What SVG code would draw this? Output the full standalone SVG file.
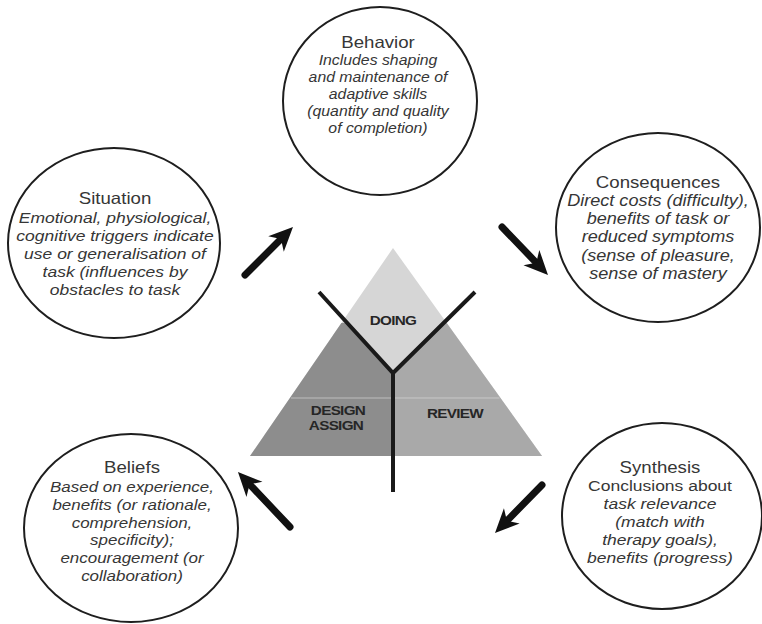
<svg xmlns="http://www.w3.org/2000/svg" width="762" height="624" viewBox="0 0 762 624">
<defs>
<style>
.circ{fill:#fff;stroke:#1e1e1e;stroke-width:2}
.t{font-family:"Liberation Sans",Arial,sans-serif;fill:#363636;text-anchor:middle}
.ti{font-size:16.5px}
.b{font-style:italic}
.lab{font-family:"Liberation Sans",Arial,sans-serif;font-weight:bold;font-size:13.5px;fill:#262626;text-anchor:middle;letter-spacing:-0.6px}
.arr{stroke:#111;stroke-width:7;fill:none;stroke-linecap:round}
.arm{stroke:#1a1a1a;stroke-width:4;fill:none;stroke-linecap:butt}
</style>
<marker id="ah" markerUnits="userSpaceOnUse" viewBox="-26 -13 28 26" markerWidth="28" markerHeight="26" refX="-12" refY="0" orient="auto">
<path d="M0,0 L-24,-11 L-17,0 L-24,11 Z" fill="#111"/>
</marker>
</defs>
<rect width="762" height="624" fill="#fff"/>

<g id="triangle">
<polygon points="393,248 542,456 250,456" fill="#d6d6d6"/>
<polygon points="341.4,323 347.3,323 393,373 393,456 250,456" fill="#8d8d8d"/>
<polygon points="393,373 443.6,323 446.7,323 542,456 393,456" fill="#a9a9a9"/>
<line x1="291" y1="398" x2="499.5" y2="398" stroke="#dedede" stroke-width="1" opacity="0.6"/>
<path class="arm" d="M319,292 L393,373 L475,292 M393,373 L393,492"/>
<text class="lab" x="0" y="0" transform="translate(393,325) scale(1.13,1)">DOING</text>
<text class="lab" x="0" y="0" transform="translate(338,415) scale(1.13,1)">DESIGN</text>
<text class="lab" x="0" y="0" transform="translate(336,430) scale(1.13,1)">ASSIGN</text>
<text class="lab" x="0" y="0" transform="translate(455,418) scale(1.13,1)">REVIEW</text>
</g>

<g id="behavior">
<ellipse class="circ" cx="380" cy="101" rx="97" ry="94"/>
<g transform="translate(378,0) scale(1.13,1)">
<text class="t ti" x="0" y="48">Behavior</text>
<g class="t b" style="font-size:14px">
<text x="0" y="65">Includes shaping</text>
<text x="0" y="82">and maintenance of</text>
<text x="0" y="99">adaptive skills</text>
<text x="0" y="116">(quantity and quality</text>
<text x="0" y="133">of completion)</text>
</g>
</g>
</g>

<g id="situation">
<ellipse class="circ" cx="114" cy="243" rx="106" ry="95"/>
<g transform="translate(115,0) scale(1.13,1)">
<text class="t ti" x="0" y="204">Situation</text>
<g class="t b" style="font-size:15.5px">
<text x="0" y="223">Emotional, physiological,</text>
<text x="0" y="241">cognitive triggers indicate</text>
<text x="0" y="259">use or generalisation of</text>
<text x="0" y="277">task (influences by</text>
<text x="0" y="295">obstacles to task</text>
</g>
</g>
</g>

<g id="consequences">
<ellipse class="circ" cx="658" cy="227.5" rx="102" ry="94.5"/>
<g transform="translate(658,0) scale(1.13,1)">
<text class="t ti" x="0" y="188">Consequences</text>
<g class="t b" style="font-size:16px">
<text x="0" y="206">Direct costs (difficulty),</text>
<text x="0" y="224">benefits of task or</text>
<text x="0" y="242.5">reduced symptoms</text>
<text x="0" y="261">(sense of pleasure,</text>
<text x="0" y="279">sense of mastery</text>
</g>
</g>
</g>

<g id="beliefs">
<ellipse class="circ" cx="131" cy="528" rx="107" ry="94"/>
<g transform="translate(132,0) scale(1.13,1)">
<text class="t ti" x="0" y="473">Beliefs</text>
<g class="t b" style="font-size:15px">
<text x="0" y="492">Based on experience,</text>
<text x="0" y="510">benefits (or rationale,</text>
<text x="0" y="528">comprehension,</text>
<text x="0" y="545">specificity);</text>
<text x="0" y="563">encouragement (or</text>
<text x="0" y="581">collaboration)</text>
</g>
</g>
</g>

<g id="synthesis">
<ellipse class="circ" cx="662" cy="516" rx="100" ry="93"/>
<g transform="translate(660,0) scale(1.13,1)">
<text class="t ti" x="0" y="473">Synthesis</text>
<g class="t" style="font-size:15.5px">
<text x="0" y="491">Conclusions about</text>
<text class="b" x="0" y="509">task relevance</text>
<text class="b" x="0" y="527">(match with</text>
<text class="b" x="0" y="545">therapy goals),</text>
<text class="b" x="0" y="563">benefits (progress)</text>
</g>
</g>
</g>

<g id="connectors">
<line class="arr" x1="245" y1="275" x2="284.5" y2="235.5" marker-end="url(#ah)"/>
<line class="arr" x1="502" y1="227" x2="539.7" y2="266.3" marker-end="url(#ah)"/>
<line class="arr" x1="542" y1="485" x2="503.4" y2="524.4" marker-end="url(#ah)"/>
<line class="arr" x1="290" y1="527" x2="246.2" y2="480.7" marker-end="url(#ah)"/>
</g>
</svg>
